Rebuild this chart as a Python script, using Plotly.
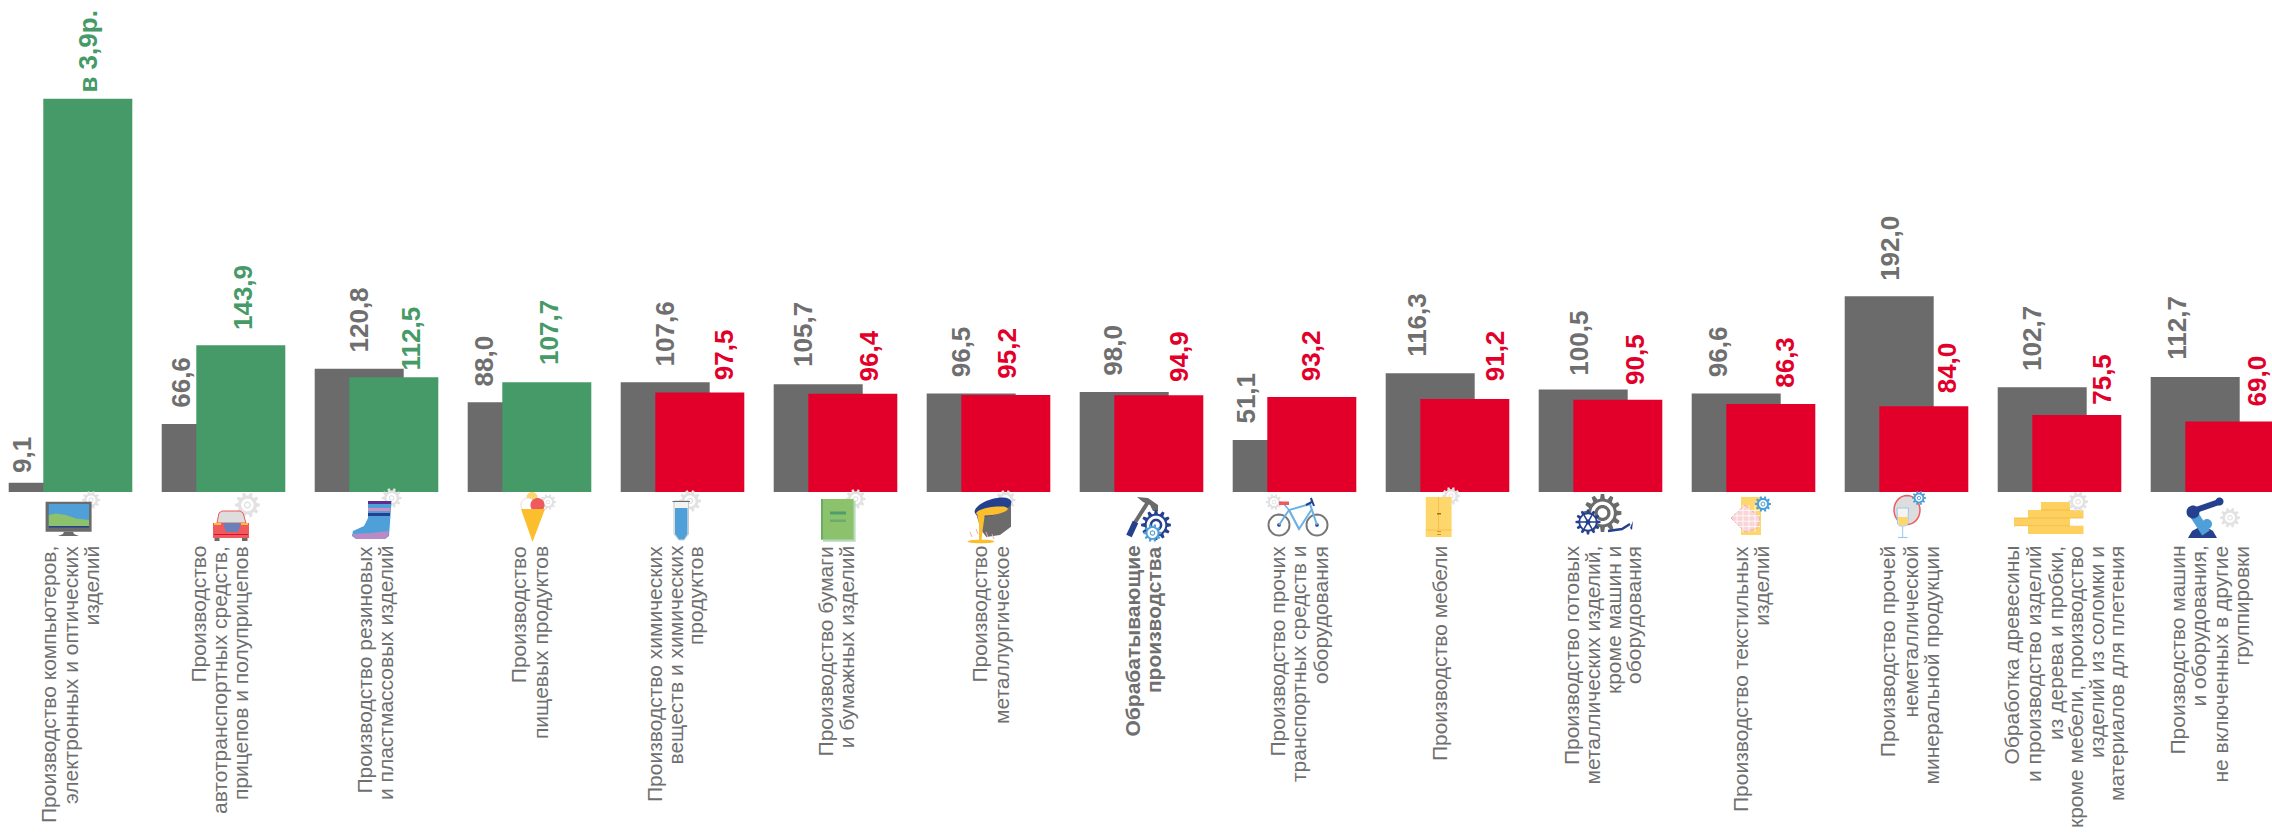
import math
import plotly.graph_objects as go

# ---------- data ----------
categories = [
    ["Производство компьютеров,", "электронных и оптических", "изделий"],
    ["Производство", "автотранспортных средств,", "прицепов и полуприцепов"],
    ["Производство резиновых", "и пластмассовых изделий"],
    ["Производство", "пищевых продуктов"],
    ["Производство химических", "веществ и химических", "продуктов"],
    ["Производство бумаги", "и бумажных изделий"],
    ["Производство", "металлургическое"],
    ["Обрабатывающие", "производства"],
    ["Производство прочих", "транспортных средств и", "оборудования"],
    ["Производство мебели"],
    ["Производство готовых", "металлических изделий,", "кроме машин и", "оборудования"],
    ["Производство текстильных", "изделий"],
    ["Производство прочей", "неметаллической", "минеральной продукции"],
    ["Обработка древесины", "и производство изделий", "из дерева и пробки,", "кроме мебели, производство", "изделий из соломки и", "материалов для плетения"],
    ["Производство машин", "и оборудования,", "не включенных в другие", "группировки"],
]
bold_category = 7
prev_values = [9.1, 66.6, 120.8, 88.0, 107.6, 105.7, 96.5, 98.0, 51.1, 116.3, 100.5, 96.6, 192.0, 102.7, 112.7]
curr_values = [385.5, 143.9, 112.5, 107.7, 97.5, 96.4, 95.2, 94.9, 93.2, 91.2, 90.5, 86.3, 84.0, 75.5, 69.0]
prev_labels = ["9,1", "66,6", "120,8", "88,0", "107,6", "105,7", "96,5", "98,0", "51,1", "116,3", "100,5", "96,6", "192,0", "102,7", "112,7"]
curr_labels = ["в 3,9р.", "143,9", "112,5", "107,7", "97,5", "96,4", "95,2", "94,9", "93,2", "91,2", "90,5", "86,3", "84,0", "75,5", "69,0"]

# ---------- layout constants (pixels) ----------
W, H = 2272, 833
PITCH = 153.0
GROUP_LEFT = 8.7
BASE_Y = 492
PX_PER_UNIT = 1.02
BAR_W = 89
OFFSET = 34.6
ANCHOR = GROUP_LEFT + 62
GREY, GREEN, RED = "#6b6b6b", "#459a67", "#e2002b"
TEXT = "#6f6f6f"
FONT = "Liberation Sans"
BLUE, NAVY, LGREY, YEL, PINK = "#4f9fd8", "#24408e", "#e2e2e2", "#fdd66c", "#ee5a5e"

prev_dx = [-31, -26, 0, -28.5, 0, -16, -10, -12, -31, -14, -4.5, -18, 0, -10, -18.5]
prev_gap = [11, 17, 17, 17, 16.5, 18, 17, 17, 17, 17.7, 15, 17, 16, 17, 18]
curr_dx = [0, 1.5, 17, 1.5, 25, 16.5, 1.5, 19.5, 0, 31, 17, 14.5, 23, 25.5, 27.5]
curr_gap = [7, 16, 7.6, 18, 13.6, 13, 17, 14, 17, 19, 16, 17, 14.3, 11, 16]
line_x = [
    [48.5, 70, 90.6], [198, 219, 240], [363.5, 385], [518.7, 540.5], [654, 675, 695.6],
    [825.4, 846.3], [979, 1001], [1132, 1153.6], [1277, 1298, 1320], [1439.6],
    [1571.6, 1592, 1613, 1633], [1740, 1760.7], [1887.7, 1909.5, 1931],
    [2011, 2033, 2055, 2075, 2096, 2116.5], [2177, 2198, 2220, 2240.5],
]
LABEL_TOP = 545
VALUE_SIZE = 26
CAT_SIZE = 21

idx = list(range(len(categories)))
fig = go.Figure()
fig.add_bar(x=idx, y=prev_values, width=BAR_W / PITCH, offset=-62 / PITCH,
            marker=dict(color=GREY, line=dict(width=0)), hoverinfo="skip", showlegend=False)
fig.add_bar(x=idx, y=curr_values, width=BAR_W / PITCH, offset=(OFFSET - 62) / PITCH,
            marker=dict(color=[GREEN if v >= 100 else RED for v in curr_values], line=dict(width=0)),
            hoverinfo="skip", showlegend=False)

ann = []
for i in idx:
    for val, lab, dx, gap, col, start in (
        (prev_values[i], prev_labels[i], prev_dx[i], prev_gap[i], TEXT, 0),
        (curr_values[i], curr_labels[i], curr_dx[i], curr_gap[i], GREEN if curr_values[i] >= 100 else RED, OFFSET),
    ):
        ann.append(dict(x=i, y=val, xref="x", yref="y", text=f"<b>{lab}</b>",
                        textangle=-90, showarrow=False, xanchor="center", yanchor="bottom",
                        xshift=start - 62 + BAR_W / 2 + dx, yshift=gap - 1,
                        borderpad=0, borderwidth=0,
                        font=dict(family=FONT, size=VALUE_SIZE, color=col)))
    for text, lx in zip(categories[i], line_x[i]):
        t = f"<b>{text}</b>" if i == bold_category else text
        ann.append(dict(x=i, y=0, xref="x", yref="y", text=t, textangle=-90, showarrow=False,
                        xanchor="center", yanchor="top", xshift=lx - (ANCHOR + i * PITCH),
                        yshift=-(LABEL_TOP - BASE_Y), borderpad=0,
                        font=dict(family=FONT, size=CAT_SIZE, color=TEXT)))

# ---------- icon helpers: page-pixel geometry turned into anchored pixel shapes ----------
shapes = []

def path(i, pts, fill=None, line=None, lw=0, closed=True):
    ax = ANCHOR + i * PITCH
    s = "M " + " L ".join(f"{x - ax:.1f} {BASE_Y - y:.1f}" for x, y in pts) + (" Z" if closed else "")
    shapes.append(dict(type="path", path=s, xref="x", yref="y", xsizemode="pixel", ysizemode="pixel",
                       xanchor=i, yanchor=0, fillcolor=fill if fill else "rgba(0,0,0,0)",
                       line=dict(color=line if line else "rgba(0,0,0,0)", width=lw), layer="above"))

def rect(i, x0, y0, x1, y1, fill, line=None, lw=0):
    path(i, [(x0, y0), (x1, y0), (x1, y1), (x0, y1)], fill, line, lw)

def ell(i, cx, cy, rx, ry=None, fill=None, line=None, lw=0, rot=0):
    ry = rx if ry is None else ry
    c, s = math.cos(rot), math.sin(rot)
    pts = []
    for k in range(36):
        a = 2 * math.pi * k / 36
        u, v = rx * math.cos(a), ry * math.sin(a)
        pts.append((cx + u * c - v * s, cy + u * s + v * c))
    path(i, pts, fill, line, lw)

def seg(i, pts, color, lw):
    path(i, pts, None, color, lw, closed=False)

def gear(i, cx, cy, r, color=LGREY, teeth=10, hole=0.5, hub=0.28):
    pts = []
    for k in range(teeth):
        a = 2 * math.pi * k / teeth
        st = 2 * math.pi / teeth
        for da, rr in ((-0.32, 0.76), (-0.17, 1.0), (0.17, 1.0), (0.32, 0.76)):
            t = a + da * st
            pts.append((cx + r * rr * math.cos(t), cy + r * rr * math.sin(t)))
    path(i, pts, color)
    ell(i, cx, cy, r * hole, fill="#ffffff")
    if hub:
        ell(i, cx, cy, r * hub, fill=color)
        ell(i, cx, cy, r * hub * 0.6, fill="#ffffff")

# 0 monitor
gear(0, 91, 500, 9)
rect(0, 45.6, 501.7, 91.6, 531.7, GREY)
rect(0, 48.8, 504, 89, 527, BLUE)
path(0, [(48.8, 526), (48.8, 515), (56, 513.5), (66, 515), (76, 518.5), (89, 520), (89, 526)], "#8cc26b")
rect(0, 48.8, 526, 89, 527.5, NAVY)
path(0, [(64, 531.7), (73, 531.7), (74, 534), (79, 536), (58, 536), (63, 534)], GREY)
# 1 car
gear(1, 247.4, 505, 12.5)
path(1, [(217, 523), (219, 513), (222, 511), (240, 511), (243, 513), (246, 523)], "#dddddd", PINK, 1)
rect(1, 213, 523, 249, 538, PINK)
rect(1, 214, 523, 221, 525, "#fbbf2d")
rect(1, 241, 523, 248, 525, "#fbbf2d")
path(1, [(223, 523), (241, 523), (238, 532), (226, 532)], "#6a80b8")
rect(1, 214, 534, 248, 535, "#d8102c")
rect(1, 214.5, 538, 219.5, 541, GREY)
rect(1, 242, 538, 247.5, 541, GREY)
# 2 boot
gear(2, 391.6, 498, 10)
path(2, [(368, 502), (391.6, 501), (389, 536), (385, 539), (356, 539), (352, 536), (353, 531), (364, 526), (368, 518)], BLUE)
rect(2, 368, 501, 391, 504, "#5b2e8f")
rect(2, 368, 508, 390.5, 511, "#d08fbf")
rect(2, 368, 513, 390, 516, NAVY)
path(2, [(352, 534), (372, 533), (389, 531), (388, 536), (385, 539), (356, 539)], "#b98ac6")
# 3 ice cream
gear(3, 548, 502, 8)
ell(3, 532, 497.5, 5.5, fill=YEL)
ell(3, 528, 505, 7, fill="#ffffff", line="#dddddd", lw=1)
ell(3, 537.5, 505, 7, fill=PINK)
path(3, [(521, 509), (545, 509), (532.5, 542)], "#fbbf2d")
# 4 test tube
gear(4, 690, 501, 11)
path(4, [(674, 501), (688.5, 501), (688.5, 534), (684, 540), (679, 540), (674, 534)], "#f3f3f3", "#c9c9c9", 1)
path(4, [(675, 508), (687.5, 508), (687.5, 534), (684, 539.5), (679, 539.5), (675, 534)], BLUE)
rect(4, 672.5, 501, 690, 502, GREY)
# 5 book
gear(5, 855.6, 499, 10)
rect(5, 823, 501, 855.6, 541.7, "#b9d9bd")
rect(5, 821, 499, 853.5, 539.5, "#8cc26b")
rect(5, 821, 499, 823, 539.5, "#67ab64")
rect(5, 830, 511.5, 846, 514.5, "#4f9e6a")
rect(5, 830, 519.5, 846, 522, "#6bab6f")
# 6 bucket
gear(6, 1005.6, 500, 10)
path(6, [(975, 510), (1011, 503), (1011, 526.7), (1000, 535), (986.4, 537), (981, 530)], GREY)
ell(6, 993, 507, 19, 8, fill=NAVY, rot=-0.3)
ell(6, 992, 511, 16, 4, fill="#fbbf2d", rot=-0.15)
path(6, [(977, 512), (985, 513), (982, 535), (981.5, 541), (979, 541), (979, 525)], "#fbbf2d")
ell(6, 981, 541.5, 13.5, 1.8, fill="#fbbf2d")
for a, b in ((970, 532), (976, 529), (986, 532), (992, 534)):
    seg(6, [(a, b), (a + 2, b + 5)], "#f4a9ad", 1)
# 7 hammer + gears
seg(7, [(1148, 502), (1134, 524)], GREY, 4)
path(7, [(1137, 497), (1148, 498), (1158, 505), (1158, 511), (1153, 511), (1150, 505), (1143, 502)], GREY)
seg(7, [(1135.5, 522), (1129, 536)], NAVY, 6)
gear(7, 1156, 525, 15, NAVY, teeth=12, hole=0.62, hub=0.42)
gear(7, 1152.5, 533, 9, BLUE, teeth=10, hole=0.55, hub=0.3)
# 8 bicycle
gear(8, 1274, 502, 8)
ell(8, 1279, 525, 10.5, line="#777777", lw=2)
ell(8, 1317, 525, 10.5, line="#777777", lw=2)
ell(8, 1279, 525, 1.8, fill=NAVY)
ell(8, 1317, 525, 1.8, fill=NAVY)
seg(8, [(1279, 525), (1289, 510), (1310, 504), (1317, 525)], "#6cb0e6", 2)
seg(8, [(1289, 510), (1299, 529), (1312, 509)], "#6cb0e6", 2)
seg(8, [(1283, 503), (1289, 510), (1299, 529)], "#6cb0e6", 1.5)
rect(8, 1279, 501.5, 1289, 505, PINK)
seg(8, [(1306, 505), (1312, 502), (1311, 498), (1314, 506)], NAVY, 2)
# 9 wardrobe
gear(9, 1451, 496, 9)
rect(9, 1425.7, 497, 1451.6, 537, YEL)
seg(9, [(1438.5, 497), (1438.5, 530)], "#f4bf4f", 1)
seg(9, [(1425.7, 530), (1451.6, 530)], "#f4bf4f", 1)
rect(9, 1437, 513, 1441, 514.5, "#b5651d")
rect(9, 1437, 531, 1441, 532, "#d58b2f")
rect(9, 1437, 534, 1441, 535, "#d58b2f")
# 10 metal goods
gear(10, 1602.5, 513, 19, GREY, teeth=12, hole=0.6, hub=0.42)
seg(10, [(1608, 531), (1622, 529), (1630, 524)], NAVY, 2.5)
path(10, [(1630, 528), (1633, 521), (1632, 530)], NAVY)
gear(10, 1588, 522, 12.5, NAVY, teeth=12, hole=0.62, hub=0)
ell(10, 1588, 522, 2.5, fill=NAVY)
for k in range(6):
    a = k * math.pi / 3
    seg(10, [(1588, 522), (1588 + 8 * math.cos(a), 522 + 8 * math.sin(a))], NAVY, 1.5)
# 11 textile
rect(11, 1741, 497, 1761, 535, YEL)
path(11, [(1745, 505), (1760, 518), (1757, 528), (1745, 532), (1731, 518)], "#f9d5d8", "#f4b0b6", 1)
for k in range(1, 5):
    seg(11, [(1731 + 6 * k, 505), (1731 + 6 * k, 532)], "#ffffff", 0.8)
    seg(11, [(1731, 505 + 5.4 * k), (1760, 505 + 5.4 * k)], "#ffffff", 0.8)
gear(11, 1763, 504, 8, BLUE, teeth=10, hole=0.5, hub=0.3)
# 12 mirror + glass
ell(12, 1907, 510, 13, 14.5, fill="#dddddd", line=PINK, lw=1.5)
path(12, [(1897, 508), (1908.5, 508), (1908, 524), (1905, 526), (1900, 526), (1897.5, 524)], "#f4f4f4", "#9ac8ea", 1)
path(12, [(1898, 517), (1908, 517), (1907.5, 524), (1905, 525.5), (1900, 525.5), (1898.5, 524)], YEL)
seg(12, [(1902.7, 526), (1902.7, 537.5)], "#9ac8ea", 1)
seg(12, [(1898, 537.5), (1907.5, 537.5)], "#9ac8ea", 1.2)
gear(12, 1919, 498, 7, BLUE, teeth=10, hole=0.5, hub=0.3)
# 13 planks
rect(13, 2041, 502, 2070, 510, "#fdd060")
rect(13, 2028, 510, 2083.5, 518, "#fdd060")
rect(13, 2014, 518, 2070, 525.7, "#fdd060")
rect(13, 2028, 525.7, 2083.5, 534, "#fdd060")
for x0, x1, y in ((2041, 2070, 510), (2014, 2083, 518), (2014, 2070, 525.7)):
    seg(13, [(x0, y), (x1, y)], "#f0b93a", 0.8)
gear(13, 2078, 501.7, 10)
# 14 robot
gear(14, 2230, 517.7, 10)
path(14, [(2188, 538), (2192, 531), (2203, 525), (2213, 531), (2217, 538)], NAVY)
seg(14, [(2193, 513), (2206, 533)], BLUE, 9)
seg(14, [(2193, 511), (2219, 502)], NAVY, 6)
ell(14, 2193, 512, 6.5, fill=NAVY)
ell(14, 2219.5, 501.5, 4, fill=NAVY)
ell(14, 2207, 524, 5, fill=BLUE)

fig.update_layout(
    width=W, height=H, autosize=False,
    margin=dict(l=0, r=0, t=0, b=0, pad=0),
    paper_bgcolor="#ffffff", plot_bgcolor="#ffffff",
    barmode="overlay", showlegend=False,
    xaxis=dict(visible=False, range=[-ANCHOR / PITCH, (W - ANCHOR) / PITCH], fixedrange=True),
    yaxis=dict(visible=False, range=[(BASE_Y - H) / PX_PER_UNIT, BASE_Y / PX_PER_UNIT], fixedrange=True),
    annotations=ann, shapes=shapes,
)
fig.write_html("out.html", config={"displayModeBar": False},
               post_script="document.body.style.margin='0';document.body.style.overflow='hidden';")
